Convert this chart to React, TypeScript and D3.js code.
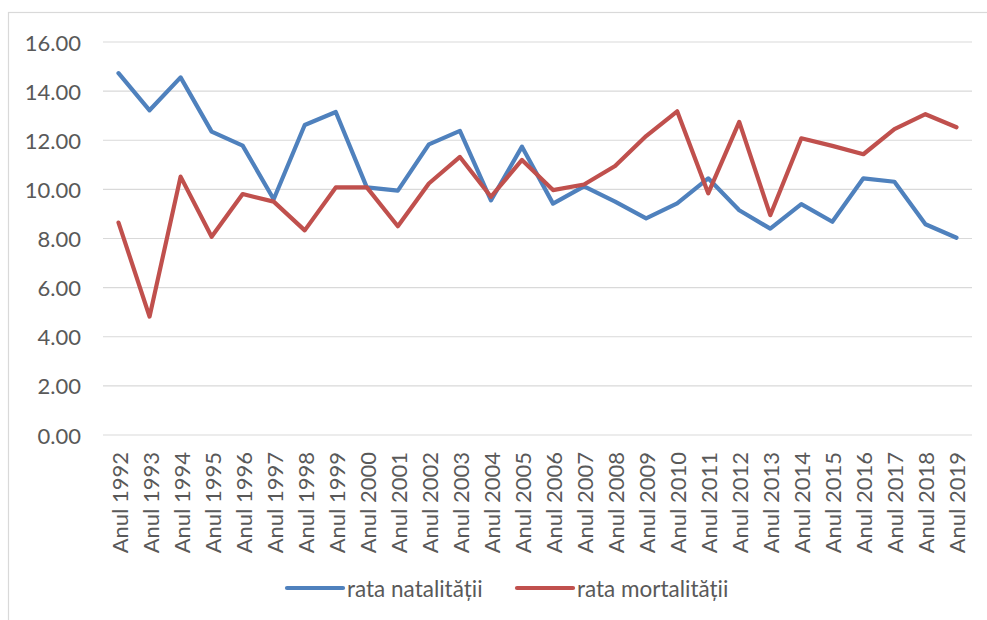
import React from "react";
import * as d3 from "d3";

const years: string[] = [
  "1992", "1993", "1994", "1995", "1996", "1997", "1998", "1999", "2000", "2001",
  "2002", "2003", "2004", "2005", "2006", "2007", "2008", "2009", "2010", "2011",
  "2012", "2013", "2014", "2015", "2016", "2017", "2018", "2019",
];
const categories: string[] = years.map((y) => "Anul " + y);

const rataNatalitatii: number[] = [
  14.73, 13.22, 14.56, 12.35, 11.78, 9.6, 12.62, 13.15, 10.08, 9.95,
  11.83, 12.38, 9.55, 11.74, 9.42, 10.12, 9.5, 8.82, 9.43, 10.45,
  9.15, 8.4, 9.4, 8.68, 10.45, 10.31, 8.58, 8.03,
];
const rataMortalitatii: number[] = [
  8.65, 4.82, 10.52, 8.07, 9.81, 9.5, 8.33, 10.08, 10.08, 8.5,
  10.24, 11.32, 9.7, 11.2, 9.97, 10.2, 10.95, 12.17, 13.18, 9.84,
  12.75, 8.95, 12.08, 11.77, 11.43, 12.45, 13.06, 12.53,
];
const yTicks: number[] = [0, 2, 4, 6, 8, 10, 12, 14, 16];
const seriesNames: string[] = ["rata natalității", "rata mortalității"];
const seriesColors: string[] = ["#4F81BD", "#C0504D"];

const W = 987;
const H = 620;
const FONT = "Lato, 'Open Sans', sans-serif";

export default function App() {
  const x = d3.scaleBand<string>().domain(categories).range([103, 972]).padding(0);
  const y = d3.scaleLinear().domain([0, 16]).range([435, 42]);
  const cx = (c: string) => (x(c) as number) + x.bandwidth() / 2;
  const line = d3
    .line<number>()
    .x((_, i) => cx(categories[i]))
    .y((d) => y(d));
  const series = [rataNatalitatii, rataMortalitatii];
  const legendX = [287, 517];

  return (
    <svg
      width={W}
      height={H}
      style={{ position: "absolute", left: 0, top: 0, background: "#fff" }}
      fontFamily={FONT}
    >
      <rect x={0} y={0} width={W} height={H} fill="#fff" />
      <rect x={8.5} y={12.5} width={1200} height={1200} fill="none" stroke="#D9D9D9" strokeWidth={1.2} />
      {yTicks.map((t) => (
        <g key={t}>
          <line x1={103} x2={972} y1={y(t)} y2={y(t)} stroke="#D9D9D9" strokeWidth={1.2} />
          <text
            x={81}
            y={y(t)}
            textAnchor="end"
            dominantBaseline="central"
            fontSize={22}
            fill="#595959"
          >
            {t.toFixed(2)}
          </text>
        </g>
      ))}
      {categories.map((c) => (
        <text
          key={c}
          transform={`translate(${cx(c) + 0.5},452) rotate(-90)`}
          textAnchor="end"
          dominantBaseline="central"
          fontSize={22}
          fill="#595959"
        >
          {c}
        </text>
      ))}
      {series.map((s, i) => (
        <path
          key={i}
          d={line(s) as string}
          fill="none"
          stroke={seriesColors[i]}
          strokeWidth={4.2}
          strokeLinejoin="round"
          strokeLinecap="round"
        />
      ))}
      {seriesNames.map((n, i) => (
        <g key={n}>
          <line
            x1={legendX[i]}
            x2={legendX[i] + 56}
            y1={588}
            y2={588}
            stroke={seriesColors[i]}
            strokeWidth={4.2}
            strokeLinecap="round"
          />
          <text
            x={legendX[i] + 60}
            y={588}
            dominantBaseline="central"
            fontSize={22.5}
            fill="#595959"
          >
            {n}
          </text>
        </g>
      ))}
    </svg>
  );
}
